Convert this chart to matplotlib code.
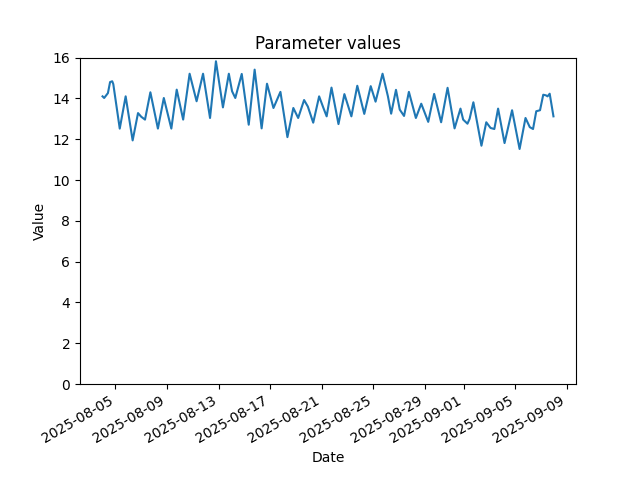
import pandas as pd
import matplotlib
matplotlib.use('Agg')
import matplotlib.pyplot as plt

start = '2025-08-04 00:00'
hours = [0, 3, 10, 14, 18, 20, 32, 43, 56, 66, 72, 79, 89, 103, 114, 128,
         138, 150, 162, 175, 187, 200, 211, 224, 235, 241, 247, 259, 272,
         283, 296, 306, 318, 331, 344, 355, 364, 375, 382, 392, 403, 411,
         417, 426, 439, 450, 463, 474, 487, 499, 508, 521, 531, 537, 546,
         553, 561, 570, 583, 593, 606, 617, 630, 642, 655, 666, 671, 679,
         683, 690, 705, 714, 722, 729, 736, 748, 762, 776, 787, 795, 801,
         807, 814, 820, 825, 828, 832, 839]
values = [14.1, 14.02, 14.26, 14.8, 14.84, 14.7, 12.52, 14.1, 11.94, 13.28,
          13.1, 12.96, 14.3, 12.52, 14.02, 12.52, 14.43, 12.96, 15.21, 13.86,
          15.21, 13.04, 15.82, 13.56, 15.21, 14.35, 14.02, 15.2, 12.71, 15.41,
          12.53, 14.72, 13.53, 14.32, 12.1, 13.53, 13.04, 13.92, 13.6, 12.81,
          14.1, 13.53, 13.12, 14.53, 12.74, 14.21, 13.12, 14.62, 13.24, 14.6,
          13.84, 15.21, 14.1, 13.25, 14.42, 13.45, 13.14, 14.32, 13.04, 13.74,
          12.85, 14.22, 12.83, 14.52, 12.53, 13.5, 12.96, 12.76, 13.0, 13.81,
          11.68, 12.83, 12.55, 12.5, 13.5, 11.81, 13.42, 11.52, 13.04, 12.59,
          12.5, 13.37, 13.42, 14.18, 14.15, 14.1, 14.23, 13.12]

dates = pd.Timestamp(start) + pd.to_timedelta(hours, unit='h')

fig, ax = plt.subplots(figsize=(6.4, 4.8), dpi=100)
ax.plot(dates, values)
ax.set_ylim(0, 16)
ax.set_title('Parameter values')
ax.set_xlabel('Date')
ax.set_ylabel('Value')
fig.autofmt_xdate()
fig.savefig('out.png')
